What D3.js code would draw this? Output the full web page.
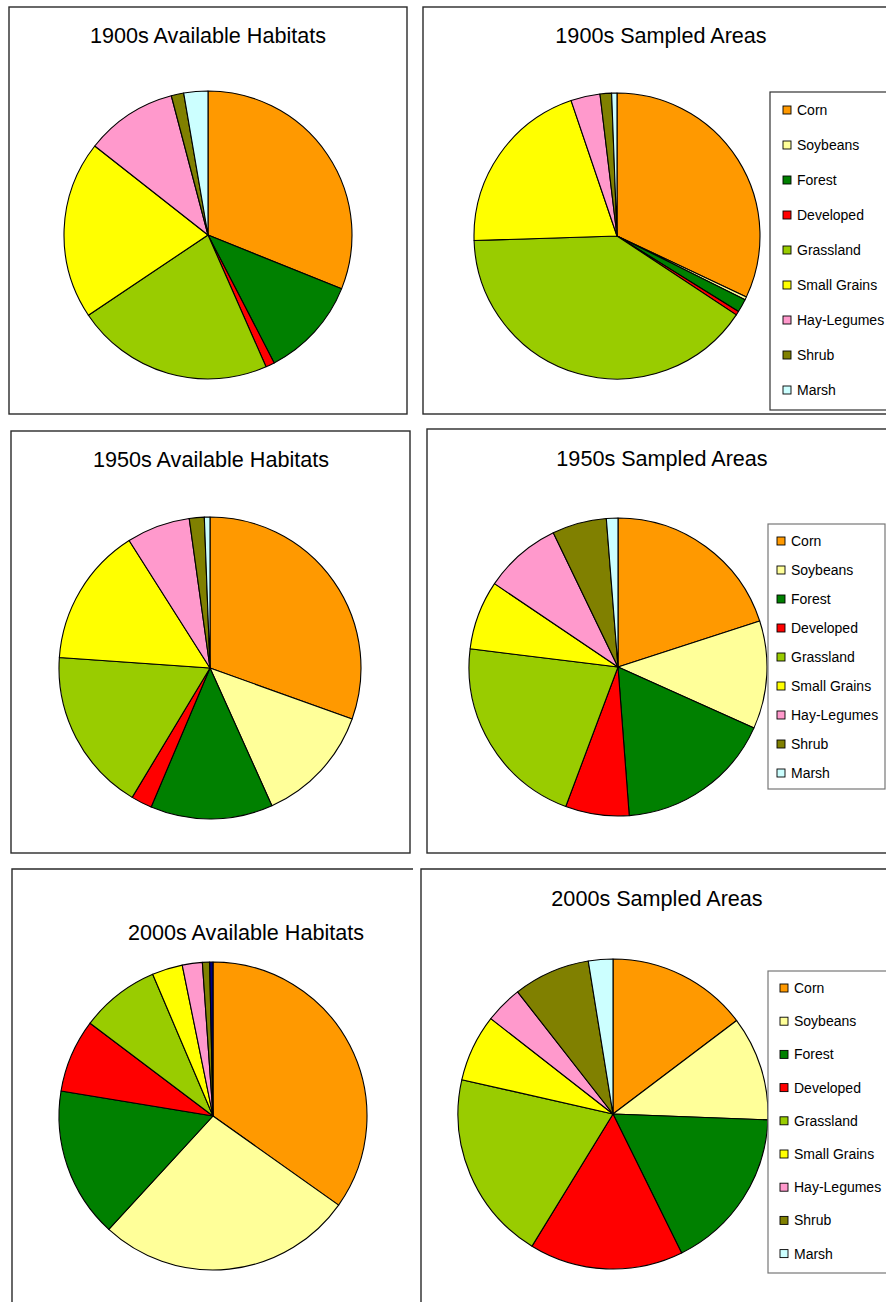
<!DOCTYPE html>
<html>
<head>
<meta charset="utf-8">
<script src="https://cdn.jsdelivr.net/npm/d3@7"></script>
<style>
  html, body { margin: 0; padding: 0; background: #fff; }
  svg { display: block; }
  text { font-family: "Liberation Sans", Arial, sans-serif; fill: #000; }
</style>
</head>
<body>
<svg id="chart" width="886" height="1302"></svg>
<script>
// Land-cover categories, in slice order (clockwise from 12 o'clock)
const categories = ["Corn", "Soybeans", "Forest", "Developed", "Grassland",
                    "Small Grains", "Hay-Legumes", "Shrub", "Marsh"];
const categoryColors = ["#FF9900", "#FFFF99", "#008000", "#FF0000", "#99CC00",
                        "#FFFF00", "#FF99CC", "#808000", "#CCFFFF"];

// Percent of area in each category
const available1900 = [31.1, 0, 11.3, 1.0, 22.2, 20.0, 10.3, 1.4, 2.7];
const sampled1900   = [32.0, 0.35, 1.5, 0.45, 40.2, 20.3, 3.3, 1.3, 0.6];
const available1950 = [30.5, 12.8, 13.1, 2.25, 17.5, 14.9, 6.8, 1.6, 0.6];
const sampled1950   = [20.0, 11.7, 17.1, 6.9, 21.25, 7.5, 8.4, 5.9, 1.25];
const available2000 = [34.8, 27.0, 15.75, 7.7, 8.3, 3.2, 2.1, 0.75, 0.35];
const sampled2000   = [14.7, 10.9, 17.1, 16.05, 19.8, 7.0, 3.9, 8.0, 2.55];

const titles = ["1900s Available Habitats", "1900s Sampled Areas",
                "1950s Available Habitats", "1950s Sampled Areas",
                "2000s Available Habitats", "2000s Sampled Areas"];

// Panel layout
const panels = [
  { values: available1900, title: titles[0], cx: 208, cy: 235, r: 144, tx: 208, ty: 35,
    frame: { x: 9, y: 7, w: 398, h: 407, sides: "all" } },
  { values: sampled1900, title: titles[1], cx: 617, cy: 236, r: 143, tx: 661, ty: 35,
    frame: { x: 423, y: 7, w: 480, h: 407, sides: "all" },
    legend: { x: 770, y: 92, w: 140, h: 318, first: 110, step: 35, sq: 783, tx: 797, stroke: "#333" } },
  { values: available1950, title: titles[2], cx: 210, cy: 668, r: 151, tx: 211, ty: 459,
    frame: { x: 11, y: 431, w: 399, h: 422, sides: "all" } },
  { values: sampled1950, title: titles[3], cx: 618, cy: 667, r: 149, tx: 662, ty: 458,
    frame: { x: 427, y: 429, w: 480, h: 424, sides: "all" },
    legend: { x: 768, y: 524, w: 117, h: 265, first: 541, step: 29, sq: 777, tx: 791, stroke: "#777" } },
  { values: available2000, title: titles[4], cx: 213, cy: 1116, r: 154, tx: 246, ty: 932,
    frame: { x: 12, y: 869, w: 401, h: 500, sides: "topleft" },
    fillOverride: { 8: "#000080" } },
  { values: sampled2000, title: titles[5], cx: 613, cy: 1114, r: 155, tx: 657, ty: 898,
    frame: { x: 421, y: 869, w: 500, h: 500, sides: "topleft" },
    legend: { x: 768, y: 971, w: 140, h: 302, first: 988, step: 33.2, sq: 780, tx: 794, stroke: "#777" } }
];

const svg = d3.select("#chart");
const pie = d3.pie().sort(null).value(d => d);
const color = d3.scaleOrdinal().domain(categories).range(categoryColors);

panels.forEach(p => {
  const g = svg.append("g");
  const f = p.frame;

  // Chart frame
  if (f.sides === "all") {
    g.append("rect")
      .attr("x", f.x).attr("y", f.y).attr("width", f.w).attr("height", f.h)
      .attr("fill", "none").attr("stroke", "#2a2a2a").attr("stroke-width", 1.4);
  } else {
    g.append("path")
      .attr("d", `M${f.x},${f.y + f.h}V${f.y}H${f.x + f.w}`)
      .attr("fill", "none").attr("stroke", "#2a2a2a").attr("stroke-width", 1.4);
  }

  // Title
  g.append("text")
    .attr("x", p.tx).attr("y", p.ty)
    .attr("text-anchor", "middle").attr("dominant-baseline", "central")
    .attr("font-size", 21.6)
    .text(p.title);

  // Pie slices
  const data = categories.map((c, i) => ({ cat: c, i, v: p.values[i] }));
  const arcs = pie.value(d => d.v)(data);
  const arc = d3.arc().innerRadius(0).outerRadius(p.r);
  g.append("g")
    .attr("transform", `translate(${p.cx},${p.cy})`)
    .selectAll("path")
    .data(arcs.filter(a => a.data.v > 0))
    .join("path")
    .attr("d", arc)
    .attr("fill", a => (p.fillOverride && p.fillOverride[a.data.i]) || color(a.data.cat))
    .attr("stroke", "#000")
    .attr("stroke-width", 1.1)
    .attr("stroke-linejoin", "round");

  // Legend
  if (p.legend) {
    const L = p.legend;
    g.append("rect")
      .attr("x", L.x).attr("y", L.y).attr("width", L.w).attr("height", L.h)
      .attr("fill", "#fff").attr("stroke", L.stroke).attr("stroke-width", 1.2);
    const items = g.append("g").selectAll("g").data(categories).join("g")
      .attr("transform", (d, i) => `translate(0,${L.first + i * L.step})`);
    items.append("rect")
      .attr("x", L.sq).attr("y", -4).attr("width", 8).attr("height", 8)
      .attr("fill", d => color(d)).attr("stroke", "#000").attr("stroke-width", 0.9);
    items.append("text")
      .attr("x", L.tx).attr("y", 0)
      .attr("dominant-baseline", "central")
      .attr("font-size", 14)
      .text(d => d);
  }
});
</script>
</body>
</html>
